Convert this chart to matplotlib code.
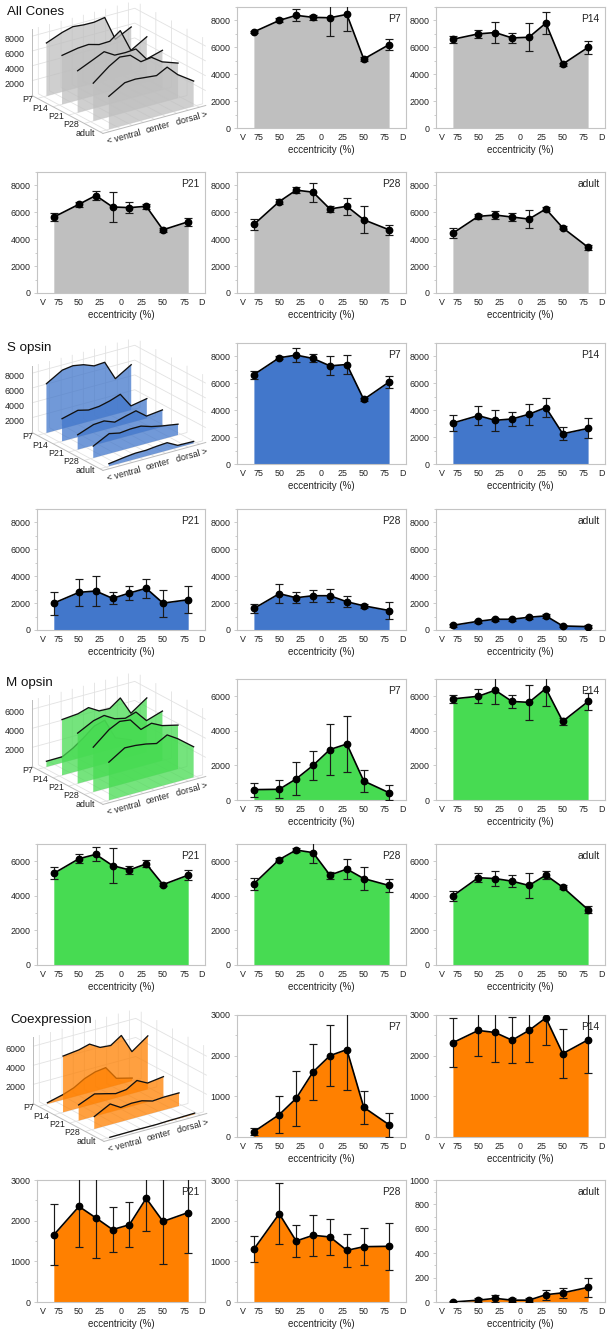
import matplotlib
matplotlib.use('Agg')
import matplotlib.pyplot as plt
from mpl_toolkits.mplot3d import proj3d
from mpl_toolkits.mplot3d.art3d import Poly3DCollection

plt.rcParams['font.family'] = ['Liberation Sans', 'DejaVu Sans']

W, H = 612, 1337
ecc = [-80, -50, -30, -10, 10, 30, 50, 80]
ages = ['P7', 'P14', 'P21', 'P28', 'adult']
age_pos = [4, 3, 2, 1, 0]
xtick_pos = [-93, -75, -50, -25, 0, 25, 50, 75, 96]
xtick_lab = ['V', '75', '50', '25', '0', '25', '50', '75', 'D']
side_pos = [-64, 0, 64]
side_lab = ['< ventral', 'center', 'dorsal >']

cones_p7 = [7150, 8000, 8380, 8230, 8200, 8450, 5130, 6200]
cones_p7_err = [100, 150, 450, 200, 1350, 1200, 130, 400]
cones_p14 = [6600, 7000, 7100, 6700, 6750, 7800, 4750, 6000]
cones_p14_err = [280, 300, 750, 350, 1030, 800, 120, 480]
cones_p21 = [5650, 6600, 7250, 6400, 6350, 6450, 4700, 5300]
cones_p21_err = [330, 200, 350, 1130, 400, 170, 170, 280]
cones_p28 = [5100, 6800, 7650, 7500, 6250, 6450, 5450, 4700]
cones_p28_err = [400, 200, 200, 700, 200, 650, 1000, 350]
cones_adult = [4450, 5700, 5800, 5650, 5500, 6250, 4850, 3400]
cones_adult_err = [350, 200, 300, 300, 700, 150, 100, 200]

s_p7 = [6650, 7900, 8100, 7850, 7300, 7400, 4800, 6100]
s_p7_err = [300, 100, 500, 300, 700, 700, 100, 450]
s_p14 = [3050, 3600, 3250, 3350, 3700, 4200, 2250, 2650]
s_p14_err = [600, 700, 800, 550, 800, 700, 500, 750]
s_p21 = [2000, 2800, 2900, 2350, 2750, 3100, 2000, 2250]
s_p21_err = [850, 1000, 1100, 450, 500, 700, 1000, 1000]
s_p28 = [1600, 2700, 2400, 2550, 2550, 2100, 1800, 1450]
s_p28_err = [300, 700, 400, 450, 500, 400, 150, 600]
s_adult = [350, 650, 800, 800, 950, 1050, 300, 250]
s_adult_err = [100, 100, 100, 100, 100, 150, 100, 100]

m_p7 = [600, 620, 1220, 2000, 2920, 3240, 1100, 420]
m_p7_err = [400, 520, 950, 850, 1480, 1630, 660, 420]
m_p14 = [5850, 6000, 6350, 5700, 5650, 6450, 4550, 5700]
m_p14_err = [250, 400, 800, 400, 1000, 1000, 200, 500]
m_p21 = [5300, 6150, 6400, 5750, 5500, 5850, 4650, 5200]
m_p21_err = [350, 250, 400, 1000, 250, 200, 100, 300]
m_p28 = [4700, 6100, 6650, 6500, 5200, 5550, 5000, 4600]
m_p28_err = [350, 100, 100, 600, 200, 600, 650, 400]
m_adult = [4000, 5050, 5000, 4850, 4600, 5200, 4500, 3200]
m_adult_err = [300, 250, 450, 350, 700, 250, 100, 200]

co_p7 = [130, 550, 950, 1600, 2000, 2150, 730, 300]
co_p7_err = [80, 450, 680, 680, 750, 1000, 400, 300]
co_p14 = [2320, 2620, 2570, 2380, 2620, 2930, 2050, 2390]
co_p14_err = [610, 640, 730, 570, 780, 660, 610, 810]
co_p14_3d = [5900, 6100, 6400, 5750, 5650, 6400, 4400, 5600]
co_p21 = [1650, 2350, 2070, 1780, 1900, 2550, 1980, 2200]
co_p21_err = [750, 1000, 1000, 550, 550, 800, 1050, 1000]
co_p28 = [1300, 2170, 1500, 1640, 1600, 1270, 1360, 1370]
co_p28_err = [320, 750, 400, 500, 450, 400, 450, 580]
co_adult = [0, 15, 30, 15, 15, 60, 75, 120]
co_adult_err = [5, 15, 30, 15, 15, 40, 40, 80]

GRAY, BLUE, GREEN, ORANGE = '#BFBFBF', '#4277CB', '#47DB52', '#FF8000'
FRAME = '#C4C4C4'
TXT = '#222222'

col_x = [(37, 205), (237, 406), (436, 605)]
row_y = [(7, 128), (172, 293), (343, 464), (509, 630), (679, 800), (844, 965), (1015, 1137), (1180, 1302)]

fig = plt.figure(figsize=(W / 100, H / 100), dpi=100, facecolor='white')


def rect(x0, x1, y0, y1):
    return [x0 / W, 1 - y1 / H, (x1 - x0) / W, (y1 - y0) / H]


def panel(row, col, name, vals, errs, color, ymax, yticks, minor):
    x0, x1 = col_x[col]
    y0, y1 = row_y[row]
    ax = fig.add_axes(rect(x0, x1, y0, y1))
    ax.fill_between(ecc, 0, vals, color=color, lw=0, zorder=1)
    ax.errorbar(ecc, vals, yerr=errs, color='black', lw=1.2, marker='o', ms=4.6,
                ecolor='#1a1a1a', elinewidth=0.85, capsize=3, capthick=0.85, zorder=3)
    ax.set_xlim(-100, 100)
    ax.set_ylim(0, ymax)
    ax.set_xticks(xtick_pos, xtick_lab)
    ax.set_yticks(yticks)
    ax.set_yticks(minor, minor=True)
    ax.tick_params(axis='x', length=0, pad=3.5, labelsize=6.4, colors=TXT)
    ax.tick_params(axis='y', which='major', length=2, width=0.6, color=FRAME, pad=2.5, labelsize=6.4, labelcolor=TXT)
    ax.tick_params(axis='y', which='minor', length=1.5, width=0.6, color=FRAME)
    for s in ax.spines.values():
        s.set_color(FRAME)
        s.set_linewidth(0.8)
    ax.set_xlabel('eccentricity (%)', fontsize=7, color=TXT, labelpad=2.5)
    ax.annotate(name, xy=(1, 1), xycoords='axes fraction', xytext=(-4, -5), textcoords='offset points',
                ha='right', va='top', fontsize=7.4, color=TXT, zorder=5)
    return ax


def box3d(row_top, title, title_xy, series, color, zmax, zticks, shift):
    size = 212
    cx, cy = 116 + shift[0], row_top + 72 + shift[1]
    ax = fig.add_axes(rect(cx - size / 2, cx + size / 2, cy - size / 2, cy + size / 2), projection='3d',
                      computed_zorder=False, proj_type='ortho')
    ax.patch.set_alpha(0)
    ax.view_init(elev=22.4, azim=-125.5)
    ax.set_box_aspect((126, 122, 72), zoom=0.87)
    ax.set_xlim(-97, 97)
    ax.set_ylim(-0.2, 4.35)
    ax.set_zlim(0, zmax)
    for i, vals in enumerate(series):
        yy = age_pos[i]
        verts = [(-80, yy, 0)] + [(e, yy, v) for e, v in zip(ecc, vals)] + [(80, yy, 0)]
        ax.add_collection3d(Poly3DCollection([verts], facecolor=color, alpha=0.75, linewidths=0, zorder=10 + 2 * i))
        ax.plot(ecc, [yy] * len(ecc), vals, color='#111111', lw=0.95, zorder=11 + 2 * i)
    ax.set_xticks([-85, -64, -42, -21, 0, 21, 42, 64, 85], [''] * 9)
    ax.set_yticks(age_pos, [''] * 5)
    M = ax.get_proj()
    for pos, lab in zip(side_pos, side_lab):
        px, py, _ = proj3d.proj_transform(pos, -0.45, -0.09 * zmax, M)
        ax.text2D(px, py, lab, transform=ax.transData, ha='center', va='center', rotation=15,
                  fontsize=6.4, color=TXT)
    for pos, lab in zip(age_pos, ages):
        px, py, _ = proj3d.proj_transform(-106, pos, 0, M)
        ax.text2D(px, py, lab, transform=ax.transData, ha='right', va='center', fontsize=6.4, color=TXT)
    ax.set_zticks(zticks)
    ax.zaxis.set_ticks_position('upper')
    ax.tick_params(axis='z', labelsize=6.4, labelcolor=TXT, pad=0)
    for a in (ax.xaxis, ax.yaxis, ax.zaxis):
        a.set_pane_color((1, 1, 1, 0))
        a.line.set_color('#BBBBBB')
        a.line.set_linewidth(0.7)
        a._axinfo['grid']['color'] = '#E2E2E2'
        a._axinfo['grid']['linewidth'] = 0.6
        a._axinfo['tick']['inward_factor'] = 0
        a._axinfo['tick']['outward_factor'] = 0
        a.pane.set_edgecolor('#BBBBBB')
        a.pane.set_linewidth(0.7)
    fig.text(title_xy[0] / W, 1 - title_xy[1] / H, title, fontsize=9.6, color='#111111', ha='left', va='center')
    return ax


t9 = [0, 2000, 4000, 6000, 8000]
m9 = [1000, 3000, 5000, 7000, 9000]
t7 = [0, 2000, 4000, 6000]
m7 = [1000, 3000, 5000, 7000]
t3 = [0, 1000, 2000, 3000]
m3 = [500, 1500, 2500]

box3d(0, 'All Cones', (7, 12), [cones_p7, cones_p14, cones_p21, cones_p28, cones_adult], GRAY, 9000,
      [2000, 4000, 6000, 8000], (0, -2))
panel(0, 1, 'P7', cones_p7, cones_p7_err, GRAY, 9000, t9, m9)
panel(0, 2, 'P14', cones_p14, cones_p14_err, GRAY, 9000, t9, m9)
panel(1, 0, 'P21', cones_p21, cones_p21_err, GRAY, 9000, t9, m9)
panel(1, 1, 'P28', cones_p28, cones_p28_err, GRAY, 9000, t9, m9)
panel(1, 2, 'adult', cones_adult, cones_adult_err, GRAY, 9000, t9, m9)

box3d(335, 'S opsin', (7, 348), [s_p7, s_p14, s_p21, s_p28, s_adult], BLUE, 9000,
      [2000, 4000, 6000, 8000], (0, 0))
panel(2, 1, 'P7', s_p7, s_p7_err, BLUE, 9000, t9, m9)
panel(2, 2, 'P14', s_p14, s_p14_err, BLUE, 9000, t9, m9)
panel(3, 0, 'P21', s_p21, s_p21_err, BLUE, 9000, t9, m9)
panel(3, 1, 'P28', s_p28, s_p28_err, BLUE, 9000, t9, m9)
panel(3, 2, 'adult', s_adult, s_adult_err, BLUE, 9000, t9, m9)

box3d(670, 'M opsin', (6, 683), [m_p7, m_p14, m_p21, m_p28, m_adult], GREEN, 7000,
      [2000, 4000, 6000], (0, -1))
panel(4, 1, 'P7', m_p7, m_p7_err, GREEN, 7000, t7, m7)
panel(4, 2, 'P14', m_p14, m_p14_err, GREEN, 7000, t7, m7)
panel(5, 0, 'P21', m_p21, m_p21_err, GREEN, 7000, t7, m7)
panel(5, 1, 'P28', m_p28, m_p28_err, GREEN, 7000, t7, m7)
panel(5, 2, 'adult', m_adult, m_adult_err, GREEN, 7000, t7, m7)

box3d(1005, 'Coexpression', (10, 1020), [co_p7, co_p14_3d, co_p21, co_p28, co_adult], ORANGE, 7000,
      [2000, 4000, 6000], (1, 1))
panel(6, 1, 'P7', co_p7, co_p7_err, ORANGE, 3000, t3, m3)
panel(6, 2, 'P14', co_p14, co_p14_err, ORANGE, 3000, t3, m3)
panel(7, 0, 'P21', co_p21, co_p21_err, ORANGE, 3000, t3, m3)
panel(7, 1, 'P28', co_p28, co_p28_err, ORANGE, 3000, t3, m3)
panel(7, 2, 'adult', co_adult, co_adult_err, ORANGE, 1000, [0, 200, 400, 600, 800, 1000], [100, 300, 500, 700, 900])

fig.savefig('out.png', dpi=100, facecolor='white')
